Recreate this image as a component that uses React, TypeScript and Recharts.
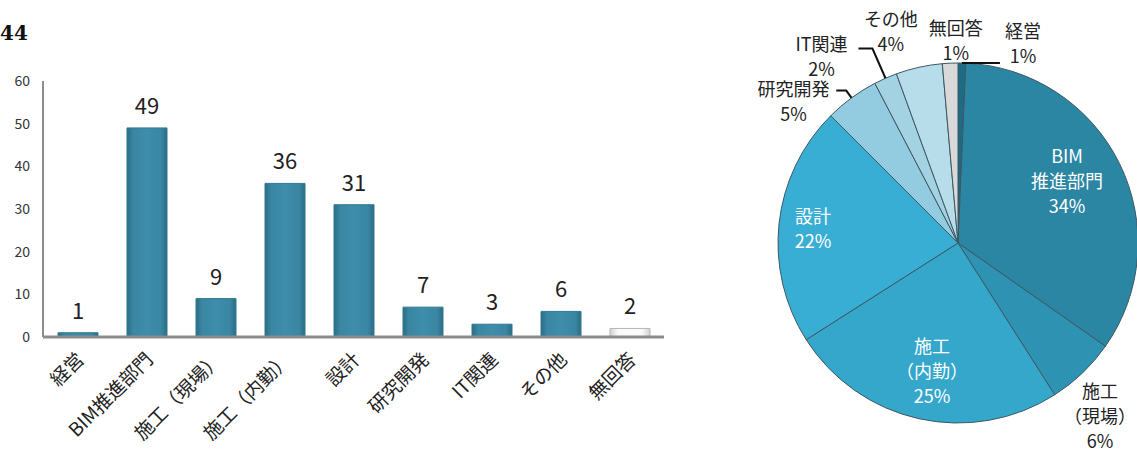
import React from "react";
import {
  BarChart,
  Bar,
  XAxis,
  YAxis,
  Cell,
  LabelList,
  PieChart,
  Pie,
} from "recharts";

const categories = [
  "経営",
  "BIM推進部門",
  "施工（現場）",
  "施工（内勤）",
  "設計",
  "研究開発",
  "IT関連",
  "その他",
  "無回答",
];
const counts = [1, 49, 9, 36, 31, 7, 3, 6, 2];
const yTicks = [0, 10, 20, 30, 40, 50, 60];

const sliceColors = [
  "#1f6a84",
  "#2b86a3",
  "#2e92b3",
  "#34a7ca",
  "#38aed4",
  "#93cce0",
  "#a3d3e3",
  "#b7dcea",
  "#d9d9d9",
];
const pieLabelLines = [
  ["経営"],
  ["BIM", "推進部門"],
  ["施工", "（現場）"],
  ["施工", "（内勤）"],
  ["設計"],
  ["研究開発"],
  ["IT関連"],
  ["その他"],
  ["無回答"],
];

// label placement: r = radius factor, a = degrees clockwise from 12 o'clock
const labelPlace = [
  { r: 1.17, a: 18, inside: false, lead: { e: 1.0, tail: 38 } },
  { r: 0.7, a: 60, inside: true },
  { r: 1.24, a: 140.5, inside: false },
  { r: 0.72, a: 191.6, inside: true },
  { r: 0.81, a: 276, inside: true },
  { r: 1.21, a: 311, inside: false, lead: { e: 1.05, tail: -10 } },
  { r: 1.29, a: 324, inside: false, lead: { e: 1.18, tail: -14 } },
  { r: 1.24, a: 342.5, inside: false },
  { r: 1.13, a: 359.4, inside: false },
];

const FONT = "'Noto Sans CJK JP', 'Noto Sans', sans-serif";

const barData = categories.map((name, i) => ({ name, value: counts[i] }));

const XTick = ({ x, y, payload }: any) => (
  <g transform={`translate(${x + 3},${y + 19})`}>
    <text
      textAnchor="end"
      dy="0.35em"
      transform="rotate(-45)"
      fontSize={19}
      fill="#222"
      fontFamily={FONT}
    >
      {payload.value}
    </text>
  </g>
);

const polar = (cx: number, cy: number, r: number, a: number) => ({
  x: cx + r * Math.sin((a * Math.PI) / 180),
  y: cy - r * Math.cos((a * Math.PI) / 180),
});

const renderPieLabel = (props: any) => {
  const { cx, cy, outerRadius, midAngle, percent, index } = props;
  const place = labelPlace[index];
  const p = polar(cx, cy, outerRadius * place.r, place.a);
  const lines = [...pieLabelLines[index], `${Math.round(percent * 100)}%`];
  const lh = 25;
  const top = p.y - ((lines.length - 1) * lh) / 2;
  const color = place.inside ? "#ffffff" : "#222";
  let leader = null;
  if (place.lead) {
    const am = 90 - midAngle;
    const s = polar(cx, cy, outerRadius, am);
    const e = polar(cx, cy, outerRadius * place.lead.e, am);
    leader = (
      <polyline
        points={`${s.x},${s.y} ${e.x},${e.y} ${e.x + place.lead.tail},${e.y}`}
        fill="none"
        stroke="#111"
        strokeWidth={2}
      />
    );
  }
  return (
    <g key={`lbl-${index}`}>
      {leader}
      <text
        textAnchor="middle"
        fontSize={18}
        fill={color}
        fontFamily={FONT}
      >
        {lines.map((t, i) => (
          <tspan key={i} x={p.x} y={top + i * lh} dominantBaseline="central">
            {t}
          </tspan>
        ))}
      </text>
    </g>
  );
};

export default function App() {
  return (
    <div
      style={{
        position: "absolute",
        left: 0,
        top: 0,
        width: 1137,
        height: 457,
        background: "#fff",
        fontFamily: FONT,
      }}
    >
      <svg width={0} height={0} style={{ position: "absolute" }}>
        <defs>
          <linearGradient id="barGrad" x1="0" y1="0" x2="1" y2="0">
            <stop offset="0%" stopColor="#2b6c85" />
            <stop offset="15%" stopColor="#3a86a3" />
            <stop offset="50%" stopColor="#3d8dab" />
            <stop offset="85%" stopColor="#3a86a3" />
            <stop offset="100%" stopColor="#2b6c85" />
          </linearGradient>
          <linearGradient id="barGradW" x1="0" y1="0" x2="1" y2="0">
            <stop offset="0%" stopColor="#d0d0d0" />
            <stop offset="20%" stopColor="#fafafa" />
            <stop offset="80%" stopColor="#fafafa" />
            <stop offset="100%" stopColor="#d0d0d0" />
          </linearGradient>
        </defs>
      </svg>
      <div
        style={{
          position: "absolute",
          left: 0,
          top: 21,
          fontFamily: "'DejaVu Serif', serif",
          fontWeight: "bold",
          fontSize: 20,
          color: "#111",
        }}
      >
        44
      </div>
      <div style={{ position: "absolute", left: 0, top: 0 }}>
        <BarChart
          width={680}
          height={457}
          data={barData}
          margin={{ top: 81, right: 16, bottom: 0, left: 0 }}
          barCategoryGap={29}
        >
          <XAxis
            dataKey="name"
            interval={0}
            tickLine={false}
            tickSize={0}
            tickMargin={0}
            height={120}
            axisLine={{ stroke: "#8c8c8c", strokeWidth: 3 }}
            tick={<XTick />}
          />
          <YAxis
            width={43}
            domain={[0, 60]}
            ticks={yTicks}
            tickLine={false}
            tickSize={0}
            tickMargin={13}
            axisLine={{ stroke: "#8c8c8c", strokeWidth: 2 }}
            tick={{ fontSize: 14, fill: "#333", fontFamily: FONT }}
          />
          <Bar dataKey="value" barSize={40} isAnimationActive={false}>
            {barData.map((d, i) => (
              <Cell
                key={`c-${i}`}
                fill={d.name === "無回答" ? "url(#barGradW)" : "url(#barGrad)"}
                stroke={d.name === "無回答" ? "#b5b5b5" : "#2f7891"}
                strokeWidth={1}
              />
            ))}
            <LabelList
              dataKey="value"
              position="top"
              offset={14}
              fontSize={22}
              fill="#222"
              fontFamily={FONT}
            />
          </Bar>
        </BarChart>
      </div>
      <div style={{ position: "absolute", left: 700, top: 0 }}>
        <PieChart width={437} height={457} style={{ overflow: "visible" }}>
          <Pie
            data={barData}
            dataKey="value"
            nameKey="name"
            cx={253}
            cy={238}
            outerRadius={180}
            startAngle={90}
            endAngle={-270}
            stroke="#3d5863"
            strokeWidth={1}
            label={renderPieLabel}
            labelLine={false}
            isAnimationActive={false}
          >
            {barData.map((d, i) => (
              <Cell key={`s-${i}`} fill={sliceColors[i]} />
            ))}
          </Pie>
        </PieChart>
      </div>
    </div>
  );
}
